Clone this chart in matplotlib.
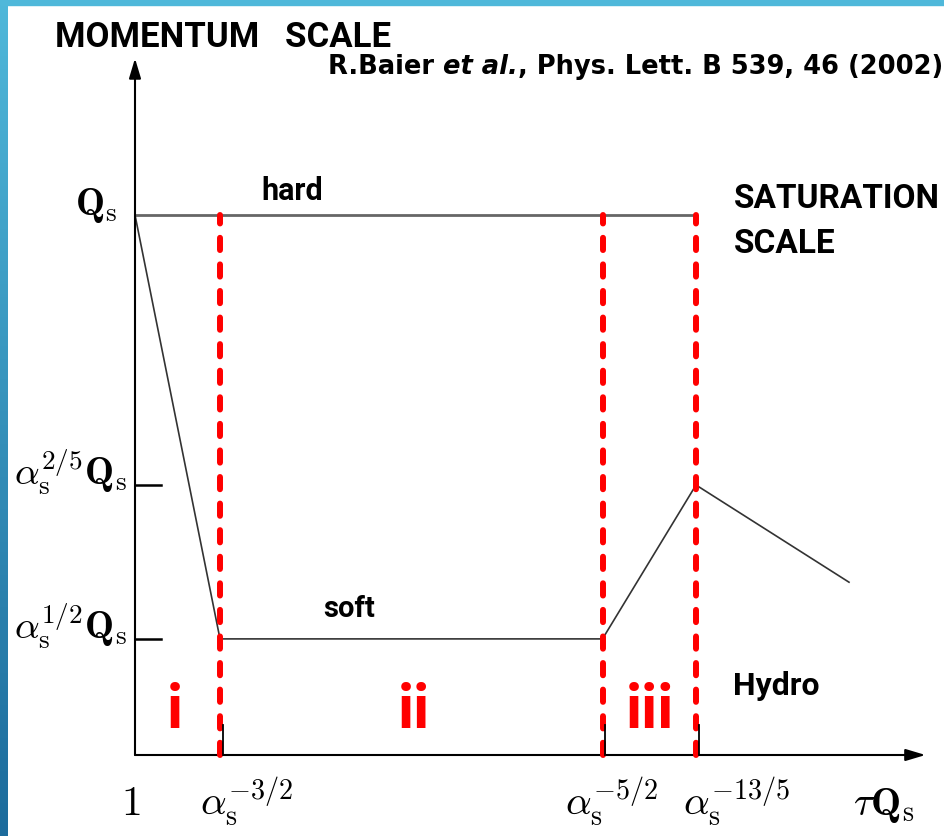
"""
Momentum-scale evolution sketch (bottom-up thermalization, Baier et al. 2002).
Schematic: hard / soft scales vs. tau*Qs with the three stages i, ii, iii.
"""
import numpy as np
import matplotlib
matplotlib.use("Agg")
import matplotlib.pyplot as plt
from matplotlib.patches import Rectangle

plt.rcParams["mathtext.fontset"] = "cm"

W, H, DPI = 944, 836, 100
SANS = "Roboto"

# ── Schematic data (arbitrary units) ──────────────────────────────────────────
t_marks   = [1.0, 5.5, 6.6]                       # alpha^-3/2, alpha^-5/2, alpha^-13/5
t_labels  = [r"$\alpha_\mathrm{s}^{-3/2}$", r"$\alpha_\mathrm{s}^{-5/2}$",
             r"$\alpha_\mathrm{s}^{-13/5}$"]
t_lab_x   = [0.765, 5.06, 6.45]

levels      = [10.0, 5.0, 2.15]                   # Qs, alpha^2/5 Qs, alpha^1/2 Qs
level_lab   = [r"$\mathbf{Q}_\mathrm{s}$",
               r"$\alpha_\mathrm{s}^{2/5}\mathbf{Q}_\mathrm{s}$",
               r"$\alpha_\mathrm{s}^{1/2}\mathbf{Q}_\mathrm{s}$"]
level_tick  = [False, True, True]

hard_t = [0.0, 6.6]
hard_k = [10.0, 10.0]
evol_t = [0.0, 1.0, 5.5, 6.6, 8.4]
evol_k = [10.0, 2.15, 2.15, 5.0, 3.2]

regimes   = ["i", "ii", "iii"]
regime_x  = [0.47, 3.28, 6.06]

T_MAX, K_MAX = 9.3, 12.9

# ── Figure ────────────────────────────────────────────────────────────────────
fig = plt.figure(figsize=(W / DPI, H / DPI), dpi=DPI, facecolor="white")
ax = fig.add_axes([0, 0, 1, 1])
ax.set_xlim(-135 / 85, (W - 135) / 85)
ax.set_ylim(-(H - 755) / 54, 755 / 54)
ax.axis("off")

# blue frame on the left / top
bar = fig.add_axes([0, 0, 8 / W, 1])
grad = np.linspace(0, 1, 256)[:, None]
cmap = matplotlib.colors.LinearSegmentedColormap.from_list("edge", ["#1c6b9c", "#4fb8da"])
bar.imshow(grad, aspect="auto", cmap=cmap, origin="lower")
bar.axis("off")
fig.patches.append(Rectangle((0, 1 - 5 / H), 1, 5 / H, transform=fig.transFigure,
                             color="#4fb8da", zorder=5))

# axes with arrows
arrow = dict(arrowstyle="-|>,head_length=0.6,head_width=0.18", lw=1.5,
             color="black", mutation_scale=20, shrinkA=0, shrinkB=0)
ax.annotate("", xy=(T_MAX, 0), xytext=(0, 0), arrowprops=arrow)
ax.annotate("", xy=(0, K_MAX), xytext=(0, 0), arrowprops=arrow)

# scale curves
ax.plot(hard_t, hard_k, color="#666666", lw=2.0, zorder=2)
ax.plot(evol_t, evol_k, color="#333333", lw=1.2, zorder=2)

# stage boundaries
for t in t_marks:
    ax.plot([t, t], [0, levels[0]], color="#ff0000", lw=4.3, dashes=(2.05, 2.4),
            dash_capstyle="round", zorder=3)
    ax.plot([t + 0.035, t + 0.035], [0, 0.55], color="black", lw=1.3, zorder=4)

# y levels
for k, lab, tick in zip(levels, level_lab, level_tick):
    if tick:
        ax.plot([0, 0.3], [k, k], color="black", lw=1.8)
    ax.text(-0.09 if tick else -0.2, k, lab, fontsize=28, ha="right", va="baseline")

# x labels
ax.text(-0.16, -1.11, r"$1$", fontsize=30, ha="left", va="baseline")
for x, lab in zip(t_lab_x, t_labels):
    ax.text(x, -1.11, lab, fontsize=29, ha="left", va="baseline")
ax.text(8.45, -1.11, r"$\tau\mathbf{Q}_\mathrm{s}$", fontsize=29, ha="left", va="baseline")

# stage numerals
for x, lab in zip(regime_x, regimes):
    ax.text(x, 0.5, lab, fontsize=44, color="#ff0000", fontfamily=SANS,
            fontweight="bold", ha="center", va="baseline")

# annotations
txt = dict(fontfamily=SANS, fontweight="bold", va="baseline", ha="left")
ax.text(1.49, 10.28, "hard", fontsize=22, **txt)
ax.text(2.21, 2.56, "soft", fontsize=21, **txt)
ax.text(7.04, 1.11, "Hydro", fontsize=23, **txt)
ax.text(7.04, 10.13, "SATURATION", fontsize=24, **txt)
ax.text(7.04, 9.30, "SCALE", fontsize=24, **txt)
ax.text(-0.94, 13.11, "MOMENTUM   SCALE", fontsize=25, **txt)

# citation, with italic "et al."
cite = dict(fontsize=18.5, fontfamily="DejaVu Sans", fontweight="bold")
c1 = ax.text(2.27, 12.61, "R.Baier ", va="baseline", **cite)
c2 = ax.annotate("et al.", xy=(1, 0), xycoords=c1, va="bottom",
                 fontstyle="italic", **cite)
ax.annotate(", Phys. Lett. B 539, 46 (2002)", xy=(1, 0), xycoords=c2,
            va="bottom", **cite)

fig.savefig("out.png", dpi=DPI)
